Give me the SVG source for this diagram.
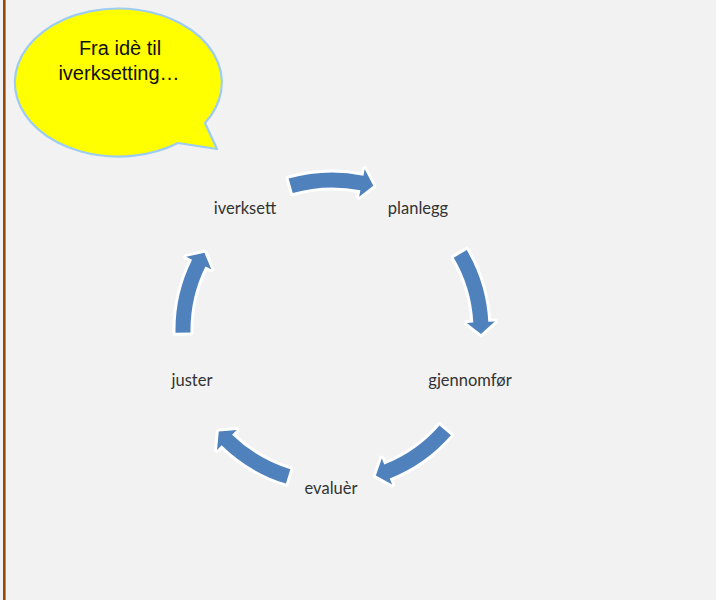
<svg xmlns="http://www.w3.org/2000/svg" width="716" height="600" viewBox="0 0 716 600">
<style>
.lbl{font-family:Lato,"Open Sans","Liberation Sans",sans-serif;font-size:16.5px;fill:#333333;text-anchor:middle}
.bub{font-family:"Liberation Sans",Arial,sans-serif;font-size:20px;fill:#111;text-anchor:middle}
.arr{fill:#4f81bd;stroke:#ffffff;stroke-width:6;paint-order:stroke;stroke-linejoin:round}
</style>
<defs>
<path id="cyc" d="M -43.41,-151.40 A 157.5,157.5 0 0 1 31.40,-154.33 L 32.70,-160.70 L 41.34,-144.20 L 27.12,-133.27 L 28.41,-139.64 A 142.5,142.5 0 0 0 -39.27,-136.99 Z"/>
</defs>
<rect x="0" y="0" width="716" height="600" fill="#f2f2f2"/>
<rect x="3" y="0" width="2.6" height="600" fill="#974806"/>
<g id="bubble">
<path d="M 205,123 A 103.5,74 0 1 0 178,143 L 217,149 Z" fill="#ffff00" stroke="#9dcdf2" stroke-width="2.2" stroke-linejoin="round"/>
<text class="bub" x="120" y="55">Fra idè til</text>
<text class="bub" x="119" y="80">iverksetting…</text>
</g>
<g id="connectors">
<use href="#cyc" class="arr" transform="translate(332,330) rotate(0)"/>
<use href="#cyc" class="arr" transform="translate(331,330) rotate(75.5)"/>
<use href="#cyc" class="arr" transform="translate(332,332) rotate(147)"/>
<use href="#cyc" class="arr" transform="translate(332,333) rotate(213)"/>
<use href="#cyc" class="arr" transform="translate(333,330) rotate(285)"/>
</g>
<g id="planlegg"><text class="lbl" x="418" y="214">planlegg</text></g>
<g id="gjennomfor"><text class="lbl" x="470" y="386">gjennomfør</text></g>
<g id="evaluer"><text class="lbl" x="331" y="494">evaluèr</text></g>
<g id="juster"><text class="lbl" x="192" y="386">juster</text></g>
<g id="iverksett"><text class="lbl" x="245" y="214">iverksett</text></g>
</svg>
